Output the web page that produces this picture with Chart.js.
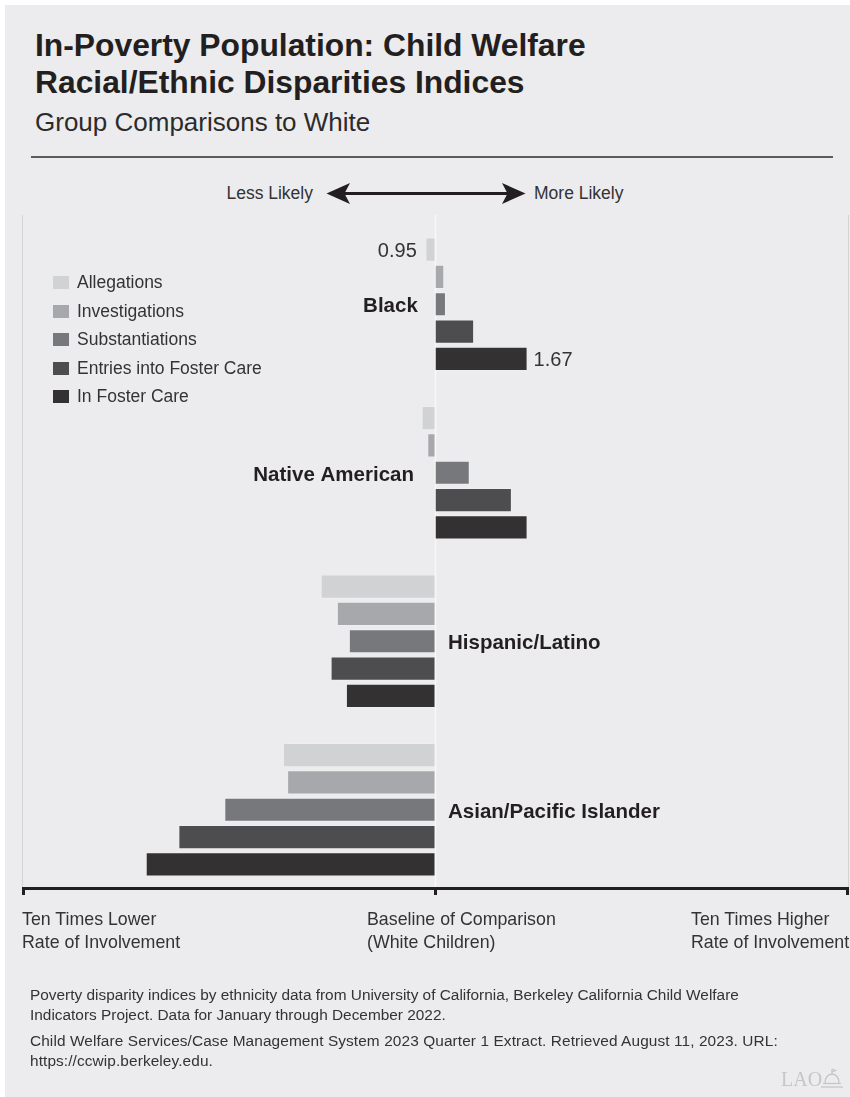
<!DOCTYPE html>
<html>
<head>
<meta charset="utf-8">
<title>In-Poverty Population: Child Welfare Racial/Ethnic Disparities Indices</title>
<script src="https://cdn.jsdelivr.net/npm/chart.js@4.4.1/dist/chart.umd.min.js"></script>
<style>
  html, body { margin: 0; padding: 0; background: #ffffff; }
  body {
    width: 850px; height: 1097px; position: relative; overflow: hidden;
    font-family: "Liberation Sans", Arial, Helvetica, sans-serif; color: #231f20;
  }
  #panel { position: absolute; left: 5px; top: 5px; width: 845px; height: 1092px; background: #ececee; }
  #chart { position: absolute; left: 0; top: 0; }
  .t { position: absolute; white-space: nowrap; }
  #title { left: 35px; top: 27px; font-size: 31.8px; line-height: 37px; font-weight: bold; }
  #subtitle { left: 35px; top: 109px; font-size: 26px; line-height: 26px; color: #2b2b2b; }
  #rule { position: absolute; left: 31px; top: 156px; width: 802px; height: 2px; background: #5c5c5e; }
  .dir { top: 185px; font-size: 17.5px; line-height: 17.5px; color: #333; }
  #legend { position: absolute; left: 53px; top: 274px; }
  .li { position: relative; height: 28.5px; font-size: 17.5px; line-height: 17.5px; color: #333; white-space: nowrap; }
  .li span.sw { position: absolute; left: 0; top: 2px; width: 15.5px; height: 13px; }
  .li span.lb { position: absolute; left: 24px; top: 0; }
  .ax { top: 908px; font-size: 17.8px; line-height: 23px; color: #333; }
  #notes { position: absolute; left: 30px; top: 985px; font-size: 15.4px; line-height: 20px; color: #333; }
  #notes p { margin: 0 0 6px 0; }
  #notes p.second { letter-spacing: 0.1px; }
  #logo { position: absolute; left: 781px; top: 1069px; font-family: "Liberation Serif", "DejaVu Serif", serif; font-size: 20px; line-height: 20px; color: #c6c6c8; }
  #arrow, #dome { position: absolute; left: 0; top: 0; }
</style>
</head>
<body>
<div id="panel"></div>

<div id="title" class="t">In-Poverty Population: Child Welfare<br>Racial/Ethnic Disparities Indices</div>
<div id="subtitle" class="t">Group Comparisons to White</div>
<div id="rule"></div>

<div class="t dir" style="right:537px;">Less Likely</div>
<div class="t dir" style="left:534px;">More Likely</div>
<svg id="arrow" width="850" height="230">
  <line x1="342" y1="193.5" x2="510" y2="193.5" stroke="#231f20" stroke-width="3"/>
  <path d="M326.5,193.5 L350,183 L344.5,193.5 L350,204 Z" fill="#231f20"/>
  <path d="M525.5,193.5 L502,183 L507.5,193.5 L502,204 Z" fill="#231f20"/>
</svg>

<canvas id="chart" width="850" height="1097"></canvas>

<div id="legend"></div>

<div class="t ax" style="left:22px;">Ten Times Lower<br>Rate of Involvement</div>
<div class="t ax" style="left:367px;">Baseline of Comparison<br>(White Children)</div>
<div class="t ax" style="left:691px;">Ten Times Higher<br>Rate of Involvement</div>

<div id="notes">
  <p>Poverty disparity indices by ethnicity data from University of California, Berkeley California Child Welfare<br>Indicators Project. Data for January through December 2022.</p>
  <p class="second">Child Welfare Services/Case Management System 2023 Quarter 1 Extract. Retrieved August 11, 2023. URL:<br>https://ccwip.berkeley.edu.</p>
</div>

<div id="logo">LAO</div>
<svg id="dome" width="850" height="1097">
  <g fill="none" stroke="#c6c6c8" stroke-width="1.3">
    <path d="M825,1083 Q825,1075 832,1074 Q839,1075 839,1083"/>
    <line x1="832" y1="1069" x2="832" y2="1074"/>
    <path d="M832,1069 L835.5,1070.5 L832,1072"/>
    <line x1="823" y1="1083.5" x2="841" y2="1083.5"/>
    <line x1="821" y1="1087" x2="843" y2="1087"/>
  </g>
</svg>

<script>
// Racial/ethnic groups compared with White children
const categories = ['Black', 'Native American', 'Hispanic/Latino', 'Asian/Pacific Islander'];

// Disparity indices (ratio to White) for each stage of child welfare involvement
const seriesNames = ['Allegations', 'Investigations', 'Substantiations', 'Entries into Foster Care', 'In Foster Care'];
const allegations     = [0.95, 0.93, 0.53, 0.43];
const investigations  = [1.05, 0.96, 0.58, 0.44];
const substantiations = [1.06, 1.21, 0.62, 0.31];
const entries         = [1.24, 1.53, 0.56, 0.24];
const inFosterCare    = [1.67, 1.67, 0.61, 0.20];

// Baseline (White children) and the axis range: ten times lower to ten times higher
const baselineValue = 1;
const axisMin = 0.1;
const axisMax = 10;

// Bars whose index is printed next to them: [series index, category index]
const labelledBars = [[0, 0], [4, 0]];

const seriesValues = [allegations, investigations, substantiations, entries, inFosterCare];
const seriesColors = ['#d1d2d4', '#a7a8ab', '#77787b', '#4d4d4f', '#333132'];

// Legend
const legendEl = document.getElementById('legend');
seriesNames.forEach((name, i) => {
  const row = document.createElement('div');
  row.className = 'li';
  row.innerHTML = '<span class="sw" style="background:' + seriesColors[i] + '"></span><span class="lb">' + name + '</span>';
  legendEl.appendChild(row);
});

// Bars grow out of the baseline in either direction on a log scale
const datasets = seriesNames.map((name, i) => ({
  label: name,
  data: seriesValues[i].map(v => [baselineValue, v]),
  backgroundColor: seriesColors[i],
  borderColor: 'rgba(255,255,255,0.2)',
  borderWidth: 1,
  borderSkipped: 'start',
  categoryPercentage: 0.81,
  barPercentage: 0.886
}));

const decorations = {
  id: 'decorations',
  beforeDatasetsDraw(chart) {
    const ctx = chart.ctx;
    const xs = chart.scales.x;
    const area = chart.chartArea;
    const top = area.top - 5;
    const axisY = area.bottom - 5.5;
    const xl = xs.getPixelForValue(axisMin);
    const xc = xs.getPixelForValue(baselineValue);
    const xr = xs.getPixelForValue(axisMax);
    ctx.save();
    ctx.lineWidth = 1;
    ctx.strokeStyle = '#d4d4d6';
    ctx.beginPath();
    ctx.moveTo(xl + 0.5, top); ctx.lineTo(xl + 0.5, axisY);
    ctx.moveTo(xr - 0.5, top); ctx.lineTo(xr - 0.5, axisY);
    ctx.stroke();
    ctx.strokeStyle = '#f7f7f8';
    ctx.lineWidth = 1.5;
    ctx.beginPath();
    ctx.moveTo(xc, top); ctx.lineTo(xc, axisY);
    ctx.stroke();
    ctx.restore();
  },
  afterDatasetsDraw(chart) {
    const ctx = chart.ctx;
    const xs = chart.scales.x;
    const ys = chart.scales.y;
    const area = chart.chartArea;
    const axisY = area.bottom - 5.5;
    const xl = xs.getPixelForValue(axisMin);
    const xc = xs.getPixelForValue(baselineValue);
    const xr = xs.getPixelForValue(axisMax);
    ctx.save();

    // Bottom axis with end and baseline ticks
    ctx.strokeStyle = '#231f20';
    ctx.lineWidth = 3;
    ctx.beginPath();
    ctx.moveTo(xl, axisY); ctx.lineTo(xr, axisY);
    ctx.stroke();
    ctx.beginPath();
    [xl + 1.5, xc, xr - 1.5].forEach(x => { ctx.moveTo(x, axisY - 1.5); ctx.lineTo(x, axisY + 6.5); });
    ctx.stroke();

    // Group names, placed on the side of the baseline away from the bars
    ctx.fillStyle = '#231f20';
    ctx.font = 'bold 20.5px "Liberation Sans", Arial, sans-serif';
    categories.forEach((name, ci) => {
      const cy = ys.getPixelForValue(ci) + 0.358 * 20.5 + 0.8;
      let minLeft = xc, maxRight = xc;
      chart.data.datasets.forEach((ds, si) => {
        const bar = chart.getDatasetMeta(si).data[ci];
        minLeft = Math.min(minLeft, bar.x, bar.base);
        maxRight = Math.max(maxRight, bar.x, bar.base);
      });
      if (inFosterCare[ci] >= baselineValue) {
        ctx.textAlign = 'right';
        ctx.fillText(name, minLeft - 8.5, cy);
      } else {
        ctx.textAlign = 'left';
        ctx.fillText(name, maxRight + 12.5, cy);
      }
    });

    // Printed index values
    ctx.fillStyle = '#333';
    ctx.font = '20px "Liberation Sans", Arial, sans-serif';
    labelledBars.forEach(([si, ci]) => {
      const bar = chart.getDatasetMeta(si).data[ci];
      const v = seriesValues[si][ci];
      const y = bar.y + 7.2;
      if (v < baselineValue) {
        ctx.textAlign = 'right';
        ctx.fillText(v.toFixed(2), Math.min(bar.x, bar.base) - 9.5, y);
      } else {
        ctx.textAlign = 'left';
        ctx.fillText(v.toFixed(2), Math.max(bar.x, bar.base) + 6, y);
      }
    });
    ctx.restore();
  }
};

new Chart(document.getElementById('chart'), {
  type: 'bar',
  data: { labels: categories, datasets },
  options: {
    indexAxis: 'y',
    responsive: false,
    animation: false,
    devicePixelRatio: 1,
    layout: { padding: { left: 22, right: 1, top: 220, bottom: 203 } },
    scales: {
      x: { type: 'logarithmic', min: axisMin, max: axisMax, display: false },
      y: { type: 'category', display: false, grid: { display: false } }
    },
    plugins: { legend: { display: false }, tooltip: { enabled: false } }
  },
  plugins: [decorations]
});
</script>
</body>
</html>
